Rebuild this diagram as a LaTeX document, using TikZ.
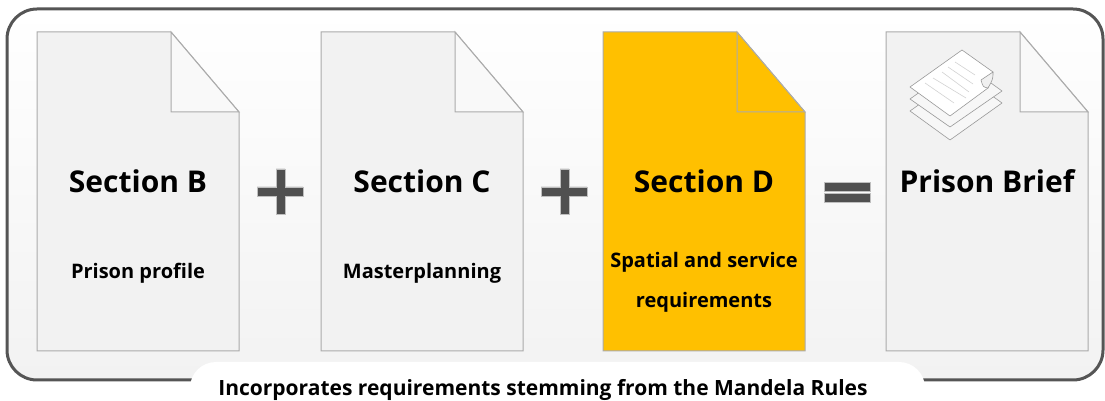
\documentclass[tikz,border=0pt]{standalone}
\usepackage{fontspec}
\setmainfont{Open Sans}
\definecolor{framegray}{HTML}{555555}
\definecolor{sheetgray}{HTML}{F2F2F2}
\definecolor{sheetline}{HTML}{ABABAB}
\definecolor{signgray}{HTML}{505050}
\definecolor{sectionyellow}{HTML}{FFC000}
\tikzset{
  sheet/.style={draw=sheetline, line width=1pt, fill=sheetgray},
  foldflap/.style={draw=sheetline, line width=1pt, fill=white, fill opacity=0.6},
  sign/.style={draw=lightgray, line width=0.7pt, fill=signgray},
  paper/.style={draw=gray!80, line width=0.6pt, fill=white!97!black, line join=round},
  paperline/.style={draw=lightgray!70, line width=0.6pt},
  heading/.style={font=\bfseries\fontsize{30}{36}\selectfont, inner sep=0pt},
  subheading/.style={font=\bfseries\fontsize{20}{26}\selectfont, inner sep=0pt},
  banner/.style={font=\bfseries\fontsize{21}{26}\selectfont, inner sep=0pt}
}
\begin{document}
\begin{tikzpicture}[x=1pt, y=1pt]
\useasboundingbox (0,0) rectangle (1105,401);
% outer frame
\draw[draw=framegray, line width=3pt, rounded corners=30pt, top color=white, bottom color=sheetgray] (7,21) rectangle (1103,392);
\fill[white, rounded corners=26pt] (190,-30) rectangle (925,39);
% section B
\draw[sheet] (37,50) -- (239,50) -- (239,289) -- (171,369) -- (37,369) -- cycle;
\draw[foldflap] (171,369) -- (239,289) -- (171,289) -- cycle;
\node[heading] (sectionB) at (138,220) {Section B};
\node[subheading] (profile) at (138,128) {Prison profile};
% section C
\draw[sheet] (321,50) -- (523,50) -- (523,289) -- (455,369) -- (321,369) -- cycle;
\draw[foldflap] (455,369) -- (523,289) -- (455,289) -- cycle;
\node[heading] (sectionC) at (422,220) {Section C};
\node[subheading] (masterplan) at (422,128) {Masterplanning};
% section D
\draw[sheet, fill=sectionyellow] (603,50) -- (805,50) -- (805,289) -- (737,369) -- (603,369) -- cycle;
\draw[sheet, fill=sectionyellow] (737,369) -- (805,289) -- (737,289) -- cycle;
\node[heading] (sectionD) at (704,220) {Section D};
\node[subheading] (spatial) at (704,139) {Spatial and service};
\node[subheading] (requirements) at (704,99) {requirements};
% prison brief
\draw[sheet] (886,50) -- (1088,50) -- (1088,289) -- (1020,369) -- (886,369) -- cycle;
\draw[foldflap] (1020,369) -- (1088,289) -- (1020,289) -- cycle;
\node[heading] (brief) at (987,220) {Prison Brief};
% stack of papers
\draw[paper] (910,290) -- (950,261) -- (1002,298) -- (962,327) -- cycle;
\draw[paper] (910,302) -- (950,274) -- (1002,310) -- (962,339) -- cycle;
\draw[paper, fill=white] (910,314) -- (950,285) -- (988,313) .. controls (990,318) .. (993,329) -- (962,351) -- cycle;
\draw[paper, fill=white!94!black] (981,321) -- (993,329) .. controls (993,322) .. (988,313) .. controls (983,314) .. (981,321) -- cycle;
\draw[paperline] (955,339) -- (975,326);
\draw[paperline] (948,334) -- (973,317);
\draw[paperline] (942,329) -- (969,309);
\draw[paperline] (933,323) -- (966,303);
\draw[paperline] (925,318) -- (954,298);
% plus and equals signs
\draw[sign] (276,232) -- (285,232) -- (285,214) -- (303,214) -- (303,205) -- (285,205) -- (285,187) -- (276,187) -- (276,205) -- (257,205) -- (257,214) -- (276,214) -- cycle;
\draw[sign] (560,232) -- (569,232) -- (569,214) -- (587,214) -- (587,205) -- (569,205) -- (569,187) -- (560,187) -- (560,205) -- (541,205) -- (541,214) -- (560,214) -- cycle;
\draw[sign] (824,210) rectangle (870,219);
\draw[sign] (824,199) rectangle (870,208);
% bottom banner
\node[banner] (mandela) at (543,11) {Incorporates requirements stemming from the Mandela Rules};
\end{tikzpicture}
\end{document}
